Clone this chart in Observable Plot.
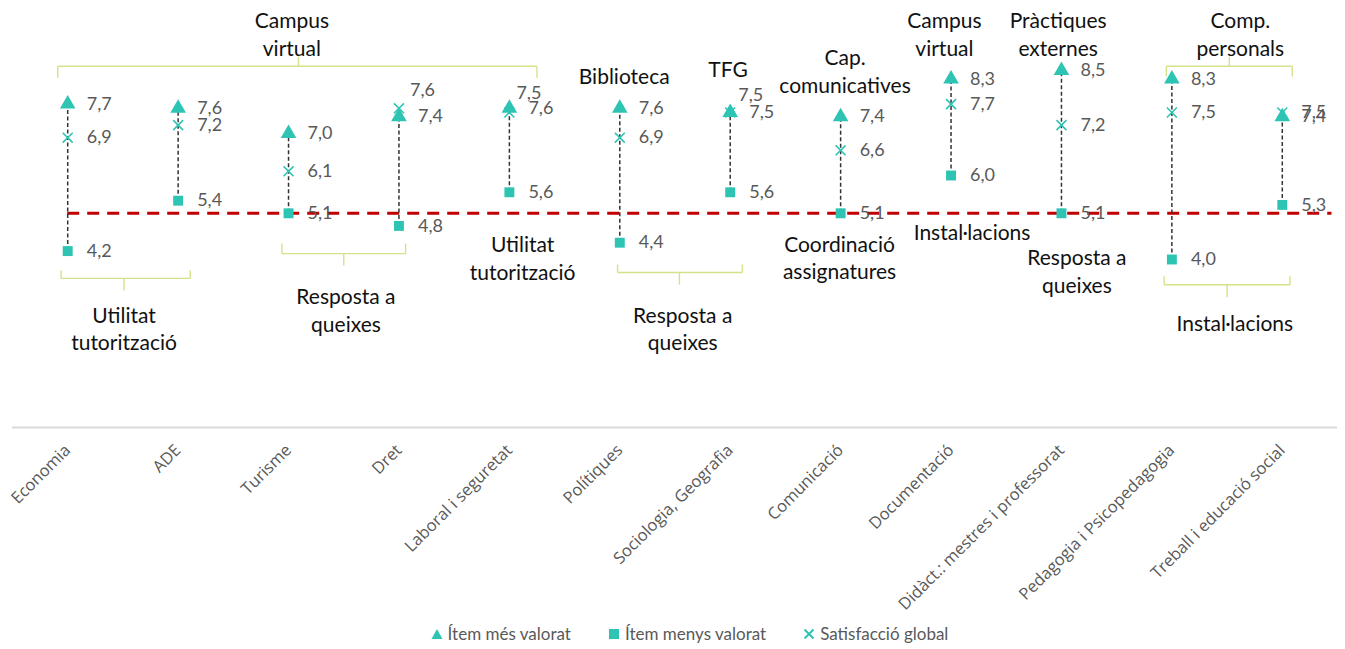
<!DOCTYPE html>
<html><head><meta charset="utf-8">
<script src="https://cdn.jsdelivr.net/npm/d3@7"></script>
<script src="https://cdn.jsdelivr.net/npm/@observablehq/plot@0.6"></script>
<style>
body{margin:0;background:#fff;font-family:Lato,sans-serif;}
#legend{display:flex;justify-content:center;gap:37px;font-size:17px;color:#595959;padding-left:34px;height:31px;align-items:center}
#legend span{display:flex;align-items:center;gap:5px}
#chart g[aria-label="x-axis tick label"]{font-size:16.5px;font-family:"Open Sans",sans-serif}
</style></head><body><div id="chart"></div><div id="legend"></div>
<script>
// ---- data ----
const categories = ["Economia","ADE","Turisme","Dret","Laboral i seguretat","Polítiques","Sociologia, Geografia","Comunicació","Documentació","Didàct.: mestres i professorat","Pedagogia i Psicopedagogia","Treball i educació social"];
const maxValues    = [7.7,7.6,7.0,7.4,7.6,7.6,7.5,7.4,8.3,8.5,8.3,7.4];
const minValues    = [4.2,5.4,5.1,4.8,5.6,4.4,5.6,5.1,6.0,5.1,4.0,5.3];
const globalValues = [6.9,7.2,6.1,7.6,7.5,6.9,7.5,6.6,7.7,7.2,7.5,7.5];
const referenceValue = 5.1;
const seriesNames = ["Ítem més valorat","Ítem menys valorat","Satisfacció global"];

// annotation texts (x in category-index units, y in value units)
const annotations = [
  {text:"Campus\nvirtual", x:2.03, y:9.40},
  {text:"Utilitat\ntutorització", x:0.51, y:2.38},
  {text:"Resposta a\nqueixes", x:2.52, y:2.81},
  {text:"Utilitat\ntutorització", x:4.12, y:4.05},
  {text:"Biblioteca", x:5.04, y:8.38},
  {text:"TFG", x:5.98, y:8.55},
  {text:"Resposta a\nqueixes", x:5.57, y:2.38},
  {text:"Cap.\ncomunicatives", x:7.04, y:8.52},
  {text:"Coordinació\nassignatures", x:6.99, y:4.07},
  {text:"Campus\nvirtual", x:7.94, y:9.40},
  {text:"Instal·lacions", x:8.19, y:4.67},
  {text:"Pràctiques\nexternes", x:8.97, y:9.40},
  {text:"Resposta a\nqueixes", x:9.14, y:3.74},
  {text:"Comp.\npersonals", x:10.62, y:9.40},
  {text:"Instal·lacions", x:10.57, y:2.50}
];
// brackets: x1..x2 at y, end ticks to yEnd, middle tick at xm to yMid
const brackets = [
  {x1:-0.09, x2:4.25, xm:2.09, y:8.60, yEnd:8.33, yMid:8.83},
  {x1:-0.06, x2:1.11, xm:0.51, y:3.55, yEnd:3.74, yMid:3.26},
  {x1:1.94, x2:3.06, xm:2.50, y:4.14, yEnd:4.38, yMid:3.86},
  {x1:4.98, x2:6.11, xm:5.54, y:3.69, yEnd:3.88, yMid:3.40},
  {x1:9.95, x2:11.09, xm:10.52, y:8.60, yEnd:8.36, yMid:8.83},
  {x1:9.93, x2:11.07, xm:10.50, y:3.40, yEnd:3.60, yMid:3.10}
];

const rows = categories.map((c,i)=>({i, cat:c, max:maxValues[i], min:minValues[i], glob:globalValues[i]}));
const segments = brackets.flatMap(b => [
  {x1:b.x1, y1:b.yEnd, x2:b.x1, y2:b.y},
  {x1:b.x1, y1:b.y, x2:b.x2, y2:b.y},
  {x1:b.x2, y1:b.y, x2:b.x2, y2:b.yEnd},
  {x1:b.xm, y1:b.y, x2:b.xm, y2:b.yMid}
]);

const teal = "#2ec4b3";
const gray = "#595959";
const fmt = v => d3.format(".1f")(v).replace(".", ",");
const shifted = {"Dret":[11,-18], "Laboral i seguretat":[7,-19], "Sociologia, Geografia":[8,-17]};

const labelOpts = {x:"i", textAnchor:"start", fontSize:18, fill:gray, dx:19};

const chart = Plot.plot({
  width:1345, height:618,
  marginTop:7, marginBottom:191, marginLeft:12, marginRight:8,
  x:{domain:[-0.5, 11.5], axis:null},
  y:{domain:[0,10], axis:null},
  style:{fontFamily:"Lato, sans-serif", background:"#fff"},
  marks:[
    Plot.ruleY([0], {stroke:"#d9d9d9", strokeWidth:2}),
    Plot.axisX(rows.map(d=>d.i), {anchor:"bottom", tickFormat:i=>categories[i], tickRotate:-45, tickSize:0, tickPadding:20, fill:gray}),
    Plot.link(segments, {x1:"x1", y1:"y1", x2:"x2", y2:"y2", stroke:"#d2e38a", strokeWidth:1.4}),
    Plot.ruleY([{y:referenceValue, x1:0, x2:11.45}], {y:"y", x1:"x1", x2:"x2", stroke:"#c00000", strokeWidth:3, strokeDasharray:"12,8"}),
    Plot.ruleX(rows, {x:"i", y1:"min", y2:"max", stroke:"#333", strokeWidth:1.5, strokeDasharray:"4,2.5"}),
    Plot.dot(rows, {x:"i", y:"max", symbol:"triangle", r:5.8, fill:teal}),
    Plot.dot(rows, {x:"i", y:"min", symbol:"square", r:5.6, fill:teal}),
    Plot.dot(rows, {x:"i", y:"glob", symbol:"times", r:4.6, stroke:teal, strokeWidth:1.6}),
    Plot.text(rows, {...labelOpts, y:"max", text:d=>fmt(d.max)}),
    Plot.text(rows, {...labelOpts, y:"min", text:d=>fmt(d.min)}),
    Plot.text(rows.filter(d=>!shifted[d.cat]), {...labelOpts, y:"glob", text:d=>fmt(d.glob)}),
    ...Object.entries(shifted).map(([cat,[dx,dy]]) =>
      Plot.text(rows.filter(d=>d.cat===cat), {...labelOpts, y:"glob", text:d=>fmt(d.glob), dx, dy})),
    Plot.text(annotations, {x:"x", y:"y", text:"text", fontSize:21, fill:"#111", lineHeight:1.33, textAnchor:"middle"})
  ]
});
document.getElementById("chart").appendChild(chart);

// legend
const sym = [
  '<svg width="12" height="12"><path d="M6 1 L11.5 11 L0.5 11 Z" fill="'+teal+'"/></svg>',
  '<svg width="12" height="12"><rect x="1" y="1" width="10" height="10" fill="'+teal+'"/></svg>',
  '<svg width="12" height="12"><path d="M1.5 1.5 L10.5 10.5 M10.5 1.5 L1.5 10.5" stroke="'+teal+'" stroke-width="2"/></svg>'
];
document.getElementById("legend").innerHTML = seriesNames.map((n,k)=>'<span>'+sym[k]+n+'</span>').join("");
</script></body></html>
